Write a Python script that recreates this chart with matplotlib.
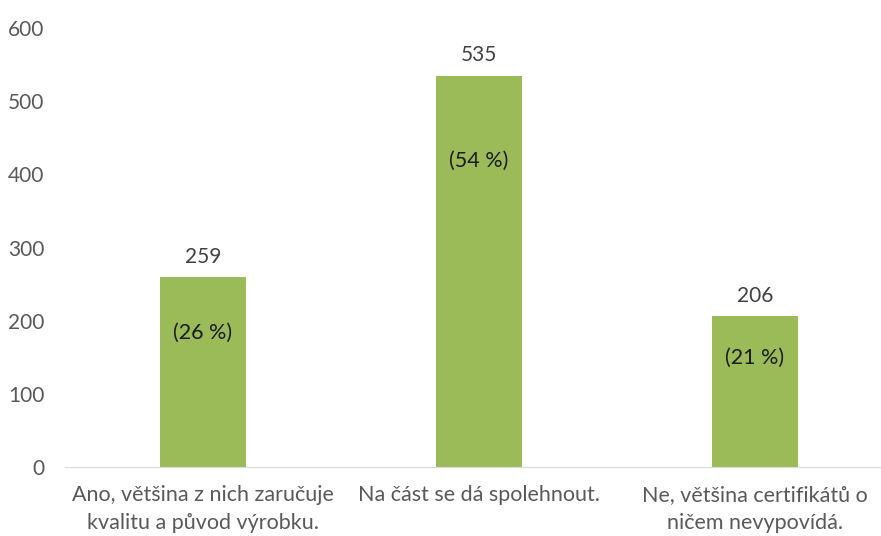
import matplotlib.pyplot as plt

categories = ['Ano, většina z nich zaručuje\nkvalitu a původ výrobku.',
              'Na část se dá spolehnout.',
              'Ne, většina certifikátů o\nničem nevypovídá.']
values = [259, 535, 206]
percents = [26, 54, 21]
pct_label_y = [184, 418, 149]

plt.rcParams['font.family'] = ['Lato', 'DejaVu Sans']

fig = plt.figure(figsize=(8.81, 5.36), dpi=100)
# plot area runs past the right edge, as in the cropped original
ax = fig.add_axes([65 / 881, 69 / 536, 828 / 881, 439 / 536])

x = range(len(values))
ax.bar(x, values, width=0.315, color='#9BBB59')

for xi, v, p, py in zip(x, values, percents, pct_label_y):
    ax.text(xi, v + 14, str(v), ha='center', va='bottom', fontsize=15, color='#404040')
    ax.text(xi, py, f'({p} %)', ha='center', va='center', fontsize=15.5, color='#1A1A1A')

ax.set_xlim(-0.5, 2.5)
ax.set_ylim(0, 600)
ax.set_yticks(range(0, 601, 100))
ax.set_xticks(list(x))
ax.set_xticklabels(categories, fontsize=15.5, color='#595959', linespacing=1.5)
ax.tick_params(axis='y', labelsize=15, labelcolor='#595959', length=0, pad=15)
ax.tick_params(axis='x', length=0, pad=13)

for side in ['left', 'right', 'top']:
    ax.spines[side].set_visible(False)
ax.spines['bottom'].set_color('#D9D9D9')

fig.savefig('out.png', dpi=100)
